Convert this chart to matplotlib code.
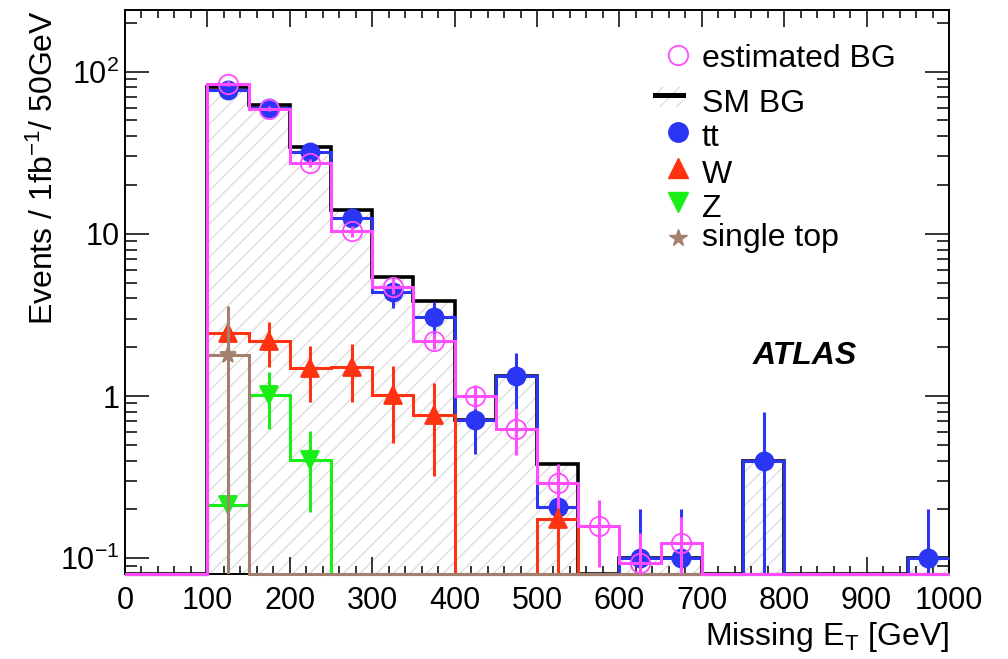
import numpy as np
import matplotlib
matplotlib.use('Agg')
import matplotlib.pyplot as plt
from matplotlib.ticker import MultipleLocator, FixedLocator, FixedFormatter, LogLocator, NullFormatter
from matplotlib.patches import Rectangle

# bins of missing ET, 50 GeV wide, 0..1000 GeV
edges = np.arange(0, 1050, 50)

# SM BG total (black line + hatch)
sm_bg = [0, 0, 80.9, 62.5, 34.1, 14.1, 5.45, 3.86, 0.71, 1.33,
         0.38, 0, 0.1, 0.1, 0, 0.40, 0, 0, 0, 0.1]
# estimated BG (magenta)
est_bg = [0, 0, 84.3, 59.1, 27.4, 10.4, 4.73, 2.19, 1.0, 0.63,
          0.293, 0.158, 0.094, 0.125, 0, 0, 0, 0, 0, 0]
est_err = [0, 0, 3.0, 2.0, 1.5, 0.8, 0.5, 0.25, 0.17, 0.2,
           0.09, 0.07, 0.05, 0.055, 0, 0, 0, 0, 0, 0]
# ttbar
tt = [0, 0, 77.4, 59.7, 32.0, 12.6, 4.37, 3.06, 0.71, 1.33,
      0.207, 0, 0.1, 0.1, 0, 0.40, 0, 0, 0, 0.1]
tt_err = [0, 0, 3.0, 2.5, 1.8, 1.1, 0.9, 0.75, 0.27, 0.5,
          0.1, 0, 0.1, 0.1, 0, 0.4, 0, 0, 0, 0.1]
# W
w = [0, 0, 2.44, 2.19, 1.48, 1.50, 1.02, 0.76, 0, 0,
     0.174, 0, 0, 0, 0, 0, 0, 0, 0, 0]
w_err = [0, 0, 0.6, 0.69, 0.56, 0.58, 0.51, 0.44, 0, 0,
         0.17, 0, 0, 0, 0, 0, 0, 0, 0, 0]
# Z
z = [0, 0, 0.214, 1.02, 0.403, 0, 0, 0, 0, 0,
     0, 0, 0, 0, 0, 0, 0, 0, 0, 0]
z_err = [0, 0, 0.21, 0.39, 0.21, 0, 0, 0, 0, 0,
         0, 0, 0, 0, 0, 0, 0, 0, 0, 0]
# single top
stop = [0, 0, 1.79, 0, 0, 0, 0, 0, 0, 0,
        0, 0, 0, 0, 0, 0, 0, 0, 0, 0]
stop_err = [0, 0, 1.79, 0, 0, 0, 0, 0, 0, 0,
            0, 0, 0, 0, 0, 0, 0, 0, 0, 0]

ymin, ymax = 0.08, 240

c_blue = '#2b36f5'
c_red = '#ff3311'
c_green = '#19ee19'
c_pink = '#ff4cff'
c_brown = '#a48070'

plt.rcParams['font.family'] = ['Liberation Sans', 'DejaVu Sans']
plt.rcParams['mathtext.default'] = 'regular'
plt.rcParams['hatch.linewidth'] = 0.8

fig = plt.figure(figsize=(10.08, 6.59), dpi=100)
ax = fig.add_axes([0.124, 0.129, 0.8175, 0.856])
ax.set_yscale('log')

centers = edges[:-1] + np.diff(edges) / 2


def floor(vals):
    vals = np.array(vals, float)
    return np.where(vals > 0, vals, ymin)


def draw(vals, errs, color, marker, ms, mfc, zo):
    ax.stairs(floor(vals), edges, baseline=None, color=color, lw=2.2, clip_on=False, zorder=zo)
    vals = np.array(vals, float)
    m = vals > 0
    ax.errorbar(centers[m], vals[m], yerr=np.array(errs, float)[m], fmt=marker, ms=ms,
                color=color, mfc=mfc, mec=color, mew=1.3, elinewidth=2.2, capsize=0,
                zorder=zo + 0.5)


# SM BG hatch + line
ax.stairs(floor(sm_bg), edges, baseline=ymin, fill=True, facecolor='none',
          edgecolor='#d6d6d6', hatch='//', lw=0, zorder=1)
ax.stairs(floor(sm_bg), edges, baseline=None, color='black', lw=2.6, clip_on=False, zorder=2)

draw(tt, tt_err, c_blue, 'o', 13, c_blue, 3)
draw(w, w_err, c_red, '^', 13, c_red, 4)
draw(z, z_err, c_green, 'v', 13, c_green, 5)
draw(stop, stop_err, c_brown, '*', 12, c_brown, 6)
draw(est_bg, est_err, c_pink, 'o', 14, 'none', 7)

# axes
ax.set_xlim(0, 1000)
ax.set_ylim(ymin, ymax)
ax.xaxis.set_major_locator(MultipleLocator(100))
ax.xaxis.set_minor_locator(MultipleLocator(20))
ax.yaxis.set_major_locator(FixedLocator([0.1, 1, 10, 100]))
ax.yaxis.set_major_formatter(FixedFormatter([r'$10^{-1}$', '1', '10', r'$10^{2}$']))
ax.yaxis.set_minor_locator(LogLocator(subs=np.arange(2, 10)))
ax.yaxis.set_minor_formatter(NullFormatter())
ax.tick_params(which='both', direction='in', top=True, right=True, width=1.1, labelsize=22)
ax.xaxis.set_tick_params(which='major', length=12, pad=9)
ax.xaxis.set_tick_params(which='minor', length=6)
ax.yaxis.set_tick_params(which='major', length=17, pad=4)
ax.yaxis.set_tick_params(which='minor', length=8.5)
for s in ax.spines.values():
    s.set_linewidth(1.4)

fig.text(0.941, 0.021, r'Missing E$_{T}$ [GeV]', ha='right', va='baseline', fontsize=23)
fig.text(0.044, 0.985, r'Events / 1fb$^{-1}$/ 50GeV', rotation=90, ha='center', va='top', fontsize=23)

ax.text(0.762, 0.387, 'ATLAS', transform=ax.transAxes, fontsize=23,
        fontweight='bold', fontstyle='italic', va='center')

# legend
mx, tx = 0.671, 0.700
ax.plot(mx, 0.920, 'o', ms=14, mfc='none', mec=c_pink, mew=1.3, transform=ax.transAxes, clip_on=False)
ax.add_patch(Rectangle((0.643, 0.828), 0.034, 0.035, transform=ax.transAxes, facecolor='none',
                       edgecolor='#d6d6d6', hatch='//', lw=0))
ax.plot([0.643, 0.677], [0.849, 0.849], color='black', lw=3.6, transform=ax.transAxes)
ax.plot(mx, 0.784, 'o', ms=14, color=c_blue, transform=ax.transAxes)
ax.plot(mx, 0.720, '^', ms=14, color=c_red, transform=ax.transAxes)
ax.plot(mx, 0.660, 'v', ms=14, color=c_green, transform=ax.transAxes)
ax.plot(mx, 0.596, '*', ms=13, color=c_brown, transform=ax.transAxes)
labels = ['estimated BG', 'SM BG', 'tt', 'W', 'Z', 'single top']
ys = [0.899, 0.819, 0.759, 0.693, 0.633, 0.582]
for lab, y in zip(labels, ys):
    ax.text(tx, y, lab, transform=ax.transAxes, fontsize=23, va='baseline')

fig.savefig('out.png', dpi=100)
